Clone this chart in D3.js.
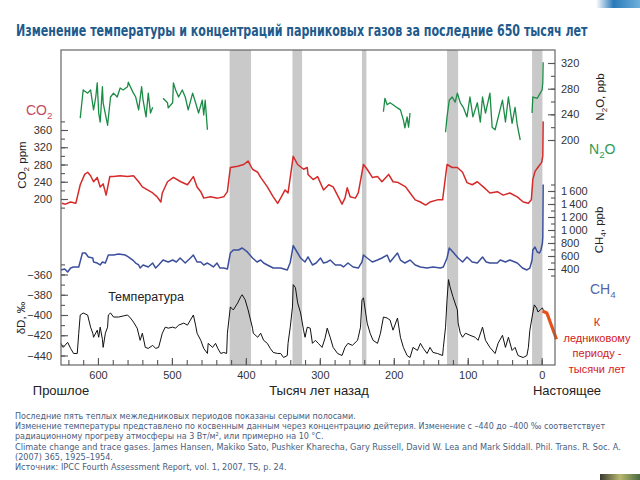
<!DOCTYPE html>
<html><head><meta charset="utf-8">
<script src="https://cdn.jsdelivr.net/npm/d3@7"></script>
<style>body{margin:0;background:#fff} svg{display:block}</style>
</head><body>
<svg id="c" width="640" height="480"></svg>
<script>
// ---------------- DATA ----------------
const titleText = "Изменение температуры и концентраций парниковых газов за последние 650 тысяч лет";
// warm interglacial periods (thousand years ago) [start, end]
const interglacials = [[422,393],[337,324],[243,237],[128,113],[13,-1]];
// time axis ticks (thousand years ago)
const timeMajorTicks = [600,500,400,300,200,100,0];
const timeMinorTicks = d3.range(640,-1,-20);
// CO2 ppm  [ka, ppm]
const co2 = [[649,190],[644,188],[637,193],[630,190],[624,233],[618,257],[614,262],[610,254],[606,240],[601,250],[597,228],[593,235],[589,209],[584,252],[579,252],[570,254],[560,252],[552,254],[545,240],[540,228],[533,221],[526,214],[520,205],[515,193],[513,214],[506,240],[498,250],[488,240],[479,233],[471,252],[466,228],[461,217],[457,202],[448,205],[438,202],[430,205],[425,217],[421,273],[411,276],[403,280],[397,288],[391,269],[384,262],[380,250],[371,228],[363,205],[357,190],[353,202],[347,221],[343,214],[340,250],[336,299],[330,280],[322,269],[317,273],[316,257],[309,245],[303,252],[295,221],[288,233],[282,228],[275,205],[270,188],[266,202],[263,226],[259,205],[252,202],[248,214],[241,280],[236,269],[229,250],[222,252],[216,240],[207,257],[201,240],[194,238],[184,228],[178,214],[171,198],[164,193],[157,186],[151,193],[141,198],[134,198],[128,280],[121,273],[114,273],[107,262],[101,238],[94,233],[87,240],[79,228],[70,214],[60,217],[52,209],[43,214],[33,205],[25,193],[18,190],[14,198],[12,245],[9,264],[4,276],[0,285],[-1.5,300],[-2,380]];
// N2O ppb  [ka, ppb]; null = gap in record
const n2o = [[624,234],[621,267],[620,278],[614,273],[610,278],[606,247],[603,267],[601,289],[599,242],[597,228],[594,283],[593,258],[587,223],[583,267],[579,273],[574,267],[570,281],[566,278],[560,283],[559,290],[553,275],[549,267],[545,247],[541,283],[539,262],[535,236],[532,273],[529,242],[526,251],[520,null],
  [512,265],[506,258],[505,250],[499,258],[498,289],[495,278],[491,267],[486,278],[482,267],[478,247],[472,273],[468,258],[464,242],[459,262],[457,239],[455,262],[452,216],[300,null],
  [214,244],[212,265],[209,255],[205,258],[201,255],[195,250],[191,247],[187,231],[185,219],[182,236],[180,220],[178,242],[150,null],
  [130,212],[128,236],[125,262],[121,267],[117,259],[114,273],[110,258],[106,251],[101,236],[97,267],[93,236],[87,258],[83,228],[80,267],[76,242],[70,273],[67,220],[63,216],[53,262],[49,228],[45,267],[40,226],[36,251],[33,223],[29,200],[20,null],
  [13,242],[12,267],[6,265],[2,273],[-0.5,278],[-1.5,289],[-2,321]];
// CH4 ppb  [ka, ppb]
const ch4 = [[650,385],[645,400],[641,354],[637,415],[633,431],[626,431],[621,646],[617,646],[613,585],[607,569],[606,508],[601,492],[597,462],[594,508],[590,492],[586,615],[579,615],[572,631],[563,615],[559,585],[553,538],[549,492],[545,462],[543,415],[539,462],[532,431],[526,492],[522,415],[518,462],[512,538],[505,508],[499,538],[494,508],[489,569],[482,492],[475,569],[471,615],[466,508],[461,508],[457,462],[452,492],[448,462],[444,431],[439,492],[435,415],[430,415],[425,400],[421,646],[417,692],[410,692],[405,723],[398,662],[391,569],[385,508],[380,538],[376,492],[371,462],[363,415],[353,415],[344,385],[340,500],[336,760],[330,646],[326,569],[320,508],[316,585],[310,462],[305,492],[299,569],[295,492],[290,508],[286,538],[279,462],[272,462],[268,431],[262,492],[255,431],[248,415],[243,508],[241,615],[236,569],[229,508],[222,538],[216,569],[209,615],[205,508],[195,646],[191,538],[185,492],[178,538],[171,462],[164,431],[155,415],[147,431],[137,415],[133,431],[128,569],[125,723],[120,662],[113,569],[107,508],[101,585],[94,508],[87,492],[80,585],[75,508],[70,492],[60,492],[56,538],[49,508],[43,538],[33,492],[26,415],[20,385],[16,415],[13,538],[12,692],[9,738],[6,662],[3,646],[1,692],[-1,800],[-1.5,892],[-2,1700]];
// Deuterium dD permil  [ka, permil]
const deut = [[650,-428],[647,-432],[641,-427],[637,-433],[633,-438],[628,-438],[626,-418],[624,-400],[620,-398],[614,-400],[610,-412],[607,-418],[606,-422],[601,-415],[599,-422],[597,-412],[594,-424],[593,-432],[590,-418],[587,-412],[586,-400],[583,-398],[579,-402],[572,-402],[566,-401],[560,-400],[556,-403],[552,-407],[547,-413],[543,-425],[540,-418],[536,-432],[532,-433],[526,-430],[522,-433],[518,-432],[513,-418],[509,-412],[505,-413],[499,-412],[495,-413],[491,-410],[484,-408],[479,-410],[475,-405],[471,-400],[468,-410],[466,-418],[461,-425],[457,-433],[452,-438],[451,-428],[445,-432],[441,-428],[438,-433],[434,-438],[430,-437],[426,-438],[425,-418],[421,-392],[417,-395],[411,-388],[407,-382],[405,-380],[401,-385],[397,-395],[391,-413],[390,-418],[384,-422],[380,-418],[376,-425],[371,-428],[367,-433],[363,-437],[357,-438],[353,-438],[349,-442],[344,-440],[343,-428],[340,-412],[337,-392],[336,-370],[333,-373],[330,-388],[326,-398],[322,-415],[320,-422],[317,-412],[313,-413],[310,-428],[306,-425],[302,-428],[297,-432],[293,-423],[290,-413],[286,-422],[282,-432],[276,-438],[270,-440],[266,-432],[262,-428],[256,-430],[249,-425],[248,-422],[245,-412],[243,-385],[241,-383],[236,-408],[232,-418],[228,-425],[222,-428],[218,-418],[214,-402],[209,-403],[205,-405],[201,-415],[195,-403],[191,-422],[187,-432],[182,-440],[178,-442],[174,-432],[168,-435],[164,-428],[160,-433],[155,-438],[151,-432],[147,-437],[141,-438],[134,-440],[133,-432],[130,-412],[128,-385],[126,-365],[124,-372],[120,-382],[114,-395],[113,-408],[110,-418],[107,-422],[103,-418],[97,-420],[90,-422],[86,-425],[80,-412],[76,-425],[70,-432],[63,-438],[59,-428],[53,-420],[49,-432],[45,-422],[40,-435],[36,-432],[32,-440],[25,-442],[20,-440],[18,-432],[16,-415],[12,-398],[10,-390],[7,-393],[5,-397],[2,-395],[-1,-393],[-2,-395]];
// projected cooling toward next glacial [ka, permil]
const future = [[-1,-396],[-7,-398],[-20,-424]];
// tick values
const co2Major = [200,240,280,320,360], co2Minor = d3.range(180,381,20);
const dMajor = [-440,-420,-400,-380,-360], dMinor = d3.range(-440,-349,10);
const n2oMajor = [200,240,280,320], n2oMinor = d3.range(200,321,20);
const ch4Major = [400,600,800,1000,1200,1400,1600], ch4Minor = d3.range(300,1701,100);
const footnotes = [
 "Последние пять теплых межледниковых периодов показаны серыми полосами.",
 "Изменение температуры представлено по косвенным данным через концентрацию дейтерия. Изменение с –440 до –400 ‰ соответствует",
 "радиационному прогреву атмосферы на 3 Вт/м², или примерно на 10 °C.",
 "Climate change and trace gases. James Hansen, Makiko Sato, Pushker Kharecha, Gary Russell, David W. Lea and Mark Siddall. Phil. Trans. R. Soc. A.",
 "(2007) 365, 1925–1954.",
 "Источник: IPCC Fourth Assessment Report, vol. 1, 2007, TS, p. 24."
];
const footWidths = [341, 591, 309, 607, 98, 272];
const noteLines = ["К","ледниковому","периоду -","тысячи лет"];

// ---------------- DRAW ----------------
const SANS = "'Liberation Sans', Arial, Helvetica, sans-serif";
const NARROW = "'Liberation Sans Narrow', 'Arial Narrow', 'DejaVu Sans Condensed', sans-serif";
const svg = d3.select("#c");
const L = 61, R = 555, T = 50, B = 365;

// fit a text to a target width by adjusting its font size
function fitWidth(sel, target, baseSize){
  sel.each(function(d,i){
    const w = typeof target === "function" ? target(d,i) : target;
    const n = this.getComputedTextLength();
    if(n > 0) d3.select(this).attr("font-size", baseSize * w / n);
  });
}

// corner decorations
const defs = svg.append("defs");
const g1 = defs.append("linearGradient").attr("id","gTop").attr("x1",0).attr("x2",1);
g1.append("stop").attr("offset",0).attr("stop-color","#ffffff");
g1.append("stop").attr("offset",0.4).attr("stop-color","#2a7ab8");
g1.append("stop").attr("offset",1).attr("stop-color","#6fb0dc");
svg.append("rect").attr("x",596).attr("y",0).attr("width",44).attr("height",8).attr("fill","url(#gTop)");
const g2 = defs.append("linearGradient").attr("id","gBot").attr("x1",0).attr("x2",1);
g2.append("stop").attr("offset",0).attr("stop-color","#3a3a30");
g2.append("stop").attr("offset",0.5).attr("stop-color","#b8b870");
g2.append("stop").attr("offset",1).attr("stop-color","#4a6a40");
svg.append("rect").attr("x",600).attr("y",474).attr("width",40).attr("height",6).attr("fill","url(#gBot)");

// title: keep height, compress horizontally to the reference width
const title = svg.append("text").attr("x",0).attr("y",0).text(titleText)
  .attr("font-family",NARROW).attr("font-weight","bold").attr("font-size",16.5)
  .attr("fill","#215a8c");
{
  const n = title.node().getComputedTextLength();
  const sx = n > 0 ? 572 / n : 1;
  title.attr("transform",`translate(16,36) scale(${sx},1)`);
}

const x = d3.scaleLinear().domain([650,-18]).range([L,R]);
const yCO2 = d3.scaleLinear().domain([200,360]).range([199,130]);
const yD = d3.scaleLinear().domain([-440,-360]).range([355.5,274.5]);
const yN2O = d3.scaleLinear().domain([200,320]).range([140,63]);
const yCH4 = d3.scaleLinear().domain([400,1600]).range([269,191]);

// interglacial bands
svg.append("g").selectAll("rect").data(interglacials).join("rect")
  .attr("x",d=>x(d[0])).attr("width",d=>x(d[1])-x(d[0]))
  .attr("y",T).attr("height",B-T).attr("fill","#c9c9c9");

// series lines
function drawLine(data, y, color, w){
  const line = d3.line().defined(d=>d[1]!=null).x(d=>x(d[0])).y(d=>y(d[1]));
  svg.append("path").attr("d",line(data)).attr("fill","none")
    .attr("stroke",color).attr("stroke-width",w).attr("stroke-linejoin","round");
}
drawLine(n2o, yN2O, "#1a8c45", 1.3);
drawLine(co2, yCO2, "#d62a2a", 1.5);
drawLine(ch4, yCH4, "#3b4f9c", 1.5);
drawLine(deut, yD, "#111111", 1.0);
drawLine(future, yD, "#e8501a", 3.2);

// frame
svg.append("rect").attr("x",L).attr("y",T).attr("width",R-L).attr("height",B-T)
  .attr("fill","none").attr("stroke","#666").attr("stroke-width",1.2);

function styleAxis(g){
  g.select(".domain").remove();
  g.selectAll("line").attr("stroke","#555").attr("stroke-width",1.1);
  g.selectAll("text").attr("font-family",SANS).attr("font-size",11).attr("fill","#333");
}
function leftAxis(y, major, minor, fmt){
  svg.append("g").attr("transform",`translate(${L},0)`)
    .call(d3.axisLeft(y).tickValues(minor).tickSize(-4).tickSizeOuter(0).tickFormat("")).call(styleAxis);
  svg.append("g").attr("transform",`translate(${L},0)`)
    .call(d3.axisLeft(y).tickValues(major).tickSize(-7).tickSizeOuter(0).tickPadding(9).tickFormat(fmt)).call(styleAxis);
}
function rightAxis(y, major, minor, fmt){
  svg.append("g").attr("transform",`translate(${R},0)`)
    .call(d3.axisRight(y).tickValues(minor).tickSize(-4).tickSizeOuter(0).tickFormat("")).call(styleAxis);
  svg.append("g").attr("transform",`translate(${R},0)`)
    .call(d3.axisRight(y).tickValues(major).tickSize(-7).tickSizeOuter(0).tickPadding(6).tickFormat(fmt)).call(styleAxis);
}
leftAxis(yCO2, co2Major, co2Minor, d3.format("d"));
leftAxis(yD, dMajor, dMinor, d3.format("d"));
rightAxis(yN2O, n2oMajor, n2oMinor, d3.format("d"));
const ch4fmt = d => d>=1000 ? Math.floor(d/1000)+"\u2009"+String(d%1000).padStart(3,"0") : String(d);
rightAxis(yCH4, ch4Major, ch4Minor, ch4fmt);

// bottom axis
svg.append("g").attr("transform",`translate(0,${B})`)
  .call(d3.axisBottom(x).tickValues(timeMinorTicks).tickSize(-5).tickSizeOuter(0).tickFormat("")).call(styleAxis);
svg.append("g").attr("transform",`translate(0,${B})`)
  .call(d3.axisBottom(x).tickValues(timeMajorTicks).tickSize(-7).tickSizeOuter(0).tickPadding(6).tickFormat(d3.format("d")))
  .call(styleAxis);

// x-axis captions
const cap = (t,xx,yy,anchor,size,color) => svg.append("text").attr("x",xx).attr("y",yy).text(t)
  .attr("text-anchor",anchor||"middle").attr("font-family",SANS).attr("font-size",size||13).attr("fill",color||"#222");
cap("Прошлое",61,395);
cap("Тысяч лет назад",319,395);
cap("Настоящее",567,395);
cap("Температура",146,301,"middle",12.5,"#222");

// series labels with subscripts
function chem(xx,yy,base,sub,tail,color,size,anchor,rot){
  const t = svg.append("text").attr("font-family",SANS).attr("font-size",size).attr("fill",color)
    .attr("text-anchor",anchor||"start");
  if(rot){ t.attr("transform",`translate(${xx},${yy}) rotate(-90)`); }
  else { t.attr("x",xx).attr("y",yy); }
  t.append("tspan").text(base);
  t.append("tspan").text(sub).attr("font-size",size*0.7).attr("dy",size*0.25);
  t.append("tspan").text(tail).attr("dy",-size*0.25);
  return t;
}
chem(26,115,"CO","2","","#c84a5a",14);
chem(589,154,"N","2","O","#2e9a55",14);
chem(590,294,"CH","4","","#5566a8",14);
chem(26,165,"CO","2"," ppm","#222",11.5,"middle",true);
chem(604,97,"N","2","O, ppb","#222",11.5,"middle",true);
chem(603,230,"CH","4",", ppb","#222",11.5,"middle",true);
svg.append("text").attr("transform","translate(25,318) rotate(-90)").attr("text-anchor","middle")
  .attr("font-family",SANS).attr("font-size",11.5).attr("fill","#222").text("δD, ‰");

// annotation
svg.append("g").selectAll("text").data(noteLines).join("text")
  .attr("x",597).attr("y",(d,i)=>326+i*15.5).attr("text-anchor","middle")
  .attr("font-family",SANS).attr("font-size",11).attr("fill","#d42020").text(d=>d);

// footnotes
svg.append("g").selectAll("text").data(footnotes).join("text")
  .attr("x",15).attr("y",(d,i)=>419+i*10.2).text(d=>d)
  .attr("font-family",NARROW).attr("font-size",10).attr("fill","#4a5d7e")
  .call(fitWidth, (d,i)=>footWidths[i], 10);
</script>
</body></html>
